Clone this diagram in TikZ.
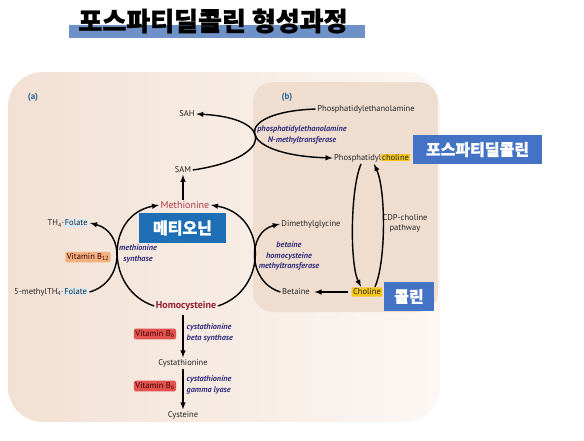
\documentclass[tikz,border=0pt]{standalone}
\usepackage{fontspec}
\setmainfont{PT Sans}
\newfontfamily\krfont[BoldFeatures={FakeBold=1.2}]{Noto Sans CJK KR}
\usetikzlibrary{positioning,calc}

\definecolor{panela}{RGB}{242,224,211}
\definecolor{panelb}{RGB}{239,221,207}
\definecolor{barblue}{RGB}{110,146,200}
\definecolor{boxblue}{RGB}{68,114,196}
\definecolor{metblue}{RGB}{30,110,182}
\definecolor{enzblue}{RGB}{48,44,125}
\definecolor{metred}{RGB}{178,55,72}
\definecolor{hcyred}{RGB}{150,30,50}
\definecolor{panlbl}{RGB}{40,100,150}
\definecolor{folblue}{RGB}{212,236,247}
\definecolor{vbor}{RGB}{243,176,128}
\definecolor{vbred}{RGB}{226,83,80}
\definecolor{cholyel}{RGB}{247,198,30}

\newcommand{\folhl}[1]{{\setlength{\fboxsep}{0.8pt}\colorbox{folblue}{#1}}}
\newcommand{\cholhl}[1]{{\setlength{\fboxsep}{0.8pt}\colorbox{cholyel}{#1}}}

\begin{document}
\begin{tikzpicture}[x=1pt,y=-1pt,>=latex,line width=1.4pt,font=\fontsize{8.5}{10}\selectfont,inner sep=1pt]

    \tikzstyle{lbl}=[text=black!85]
    \tikzstyle{enz}=[text=enzblue,font=\fontsize{8.2}{10.5}\selectfont\bfseries\itshape,align=center]
    \tikzstyle{krbox}=[fill=boxblue,text=white,font=\krfont\bfseries\fontsize{16}{18}\selectfont,inner sep=0pt]
    \tikzstyle{vit}=[rounded corners=1.5pt,inner sep=1.5pt,text=black!75!red]

    \useasboundingbox (0,0) rectangle (584,440);

    \shade[left color=panela,right color=panela!25!white,rounded corners=35pt] (8,72) rectangle (440,422);
    \fill[panelb,rounded corners=20pt] (253,82) rectangle (438,312);

    \fill[barblue] (69,25) rectangle (365,38);
    \node[font=\krfont\bfseries\fontsize{26}{28}\selectfont] (title) at (213,21) {포스파티딜콜린 형성과정};

    \node[text=panlbl,font=\bfseries\fontsize{9}{10}\selectfont] (pa) at (33,97)  {(a)};
    \node[text=panlbl,font=\bfseries\fontsize{9}{10}\selectfont] (pb) at (287,97) {(b)};

    \node[lbl]                  (sah)   at (187,114)   {SAH};
    \node[lbl]                  (sam)   at (183,170)   {SAM};
    \node[text=metred,font=\fontsize{10}{11}\selectfont] (met) at (185,205) {Methionine};
    \node[krbox,fill=metblue,minimum width=87pt,minimum height=30pt] (metkr) at (182.5,228) {메티오닌};
    \node[lbl]                  (th4)   at (68,223)    {TH\textsubscript{4}·\folhl{Folate}};
    \node[vit,fill=vbor]        (b12)   at (88,257)    {Vitamin B\textsubscript{12}};
    \node[enz]                  (ms)    at (138,254)   {methionine\\synthase};
    \node[lbl]                  (mthf)  at (51,292)    {5-methylTH\textsubscript{4}·\folhl{Folate}};
    \node[text=hcyred,font=\bfseries\fontsize{10}{11}\selectfont] (hcy) at (186,306) {Homocysteine};

    \node[lbl]                  (dmg)   at (311,224)   {Dimethylglycine};
    \node[enz]                  (bhmt)  at (289,256)   {betaine\\homocysteine\\methyltransferase};
    \node[lbl]                  (bet)   at (296,292)   {Betaine};
    \node[vit,fill=cholyel,text=black!85,rounded corners=1pt] (chol) at (367,292) {Choline};
    \node[krbox,minimum width=50pt,minimum height=29pt]  (cholkr) at (409,296.5) {콜린};
    \node[lbl]                  (pc)    at (372,158)   {Phosphatidyl\cholhl{choline}};
    \node[krbox,minimum width=129pt,minimum height=29pt] (pckr)   at (477.5,149.5) {포스파티딜콜린};
    \node[lbl]                  (pe)    at (366,109)   {Phosphatidylethanolamine};
    \node[enz]                  (pemt)  at (302,135)   {phosphatidylethanolamine\\N-methyltransferase};
    \node[lbl,align=center]     (cdp)   at (405,223)   {CDP-choline\\pathway};

    \node[vit,fill=vbred]       (b6a)   at (155,334)   {Vitamin B\textsubscript{6}};
    \node[vit,fill=vbred]       (b6b)   at (155,386)   {Vitamin B\textsubscript{6}};
    \node[enz,align=left,anchor=west] (cbs) at (185,333) {cystathionine\\beta synthase};
    \node[enz,align=left,anchor=west] (cgl) at (185,385) {cystathionine\\gamma lyase};
    \node[lbl]                  (cysta) at (183,363)   {Cystathionine};
    \node[lbl]                  (cys)   at (183,415)   {Cysteine};

    \draw[->] (sam.south |- met.north) -- (sam.south);
    \draw[->,shorten <=3pt] (cysta.north |- hcy.south) -- (cysta.north);
    \draw[->] (cysta.south) -- (cys.north);
    \draw[->,shorten <=3pt,shorten >=3pt] (chol.west) -- (bet.east);

    \draw[->] (hcy.west)  .. controls (105,290) and (105,215) .. (met.west);
    \draw[->] (hcy.east)  .. controls (268,290) and (268,215) .. (met.east);
    \draw[->] (mthf.east) .. controls (125,282) and (125,232) .. (th4.east);
    \draw[->] (bet.west)  .. controls (247,282) and (247,232) .. (dmg.west);
    \draw[->] (sam.east)  .. controls (275,158) and (275,118) .. (sah.east);
    \draw[->] (pe.west)   .. controls (230,112) and (235,155) .. (pc.west);
    \draw[->] ([xshift=-11pt]pc.south) .. controls (350,190) and (350,265) .. ([xshift=-6pt]chol.north);
    \draw[->] ([xshift=8pt]chol.north)  .. controls (386,262) and (386,190) .. ([xshift=2pt]pc.south);

\end{tikzpicture}
\end{document}
